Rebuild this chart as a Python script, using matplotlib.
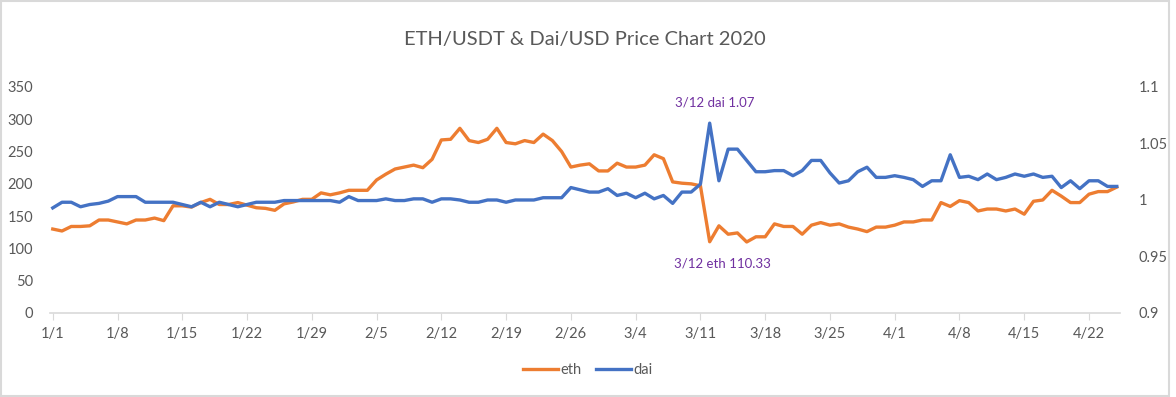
import pandas as pd
import matplotlib
matplotlib.use("Agg")
import matplotlib.pyplot as plt
from matplotlib.patches import Rectangle
from matplotlib.ticker import FuncFormatter

# daily data, 1/1/2020 .. 4/25/2020
dates = pd.date_range("2020-01-01", "2020-04-25", freq="D")

eth = [
    # Jan
    130, 127, 134, 134, 135, 144, 144, 141, 138, 144, 144, 147, 143, 166, 166, 164,
    171, 176, 168, 168, 171, 167, 163, 162, 159, 169, 172, 176, 176, 186, 183,
    # Feb
    186, 190, 190, 190, 206, 215, 223, 226, 229, 225, 238, 268, 269, 286, 267, 264,
    269, 286, 264, 262, 267, 264, 277, 267, 250, 226, 229, 231, 220,
    # Mar
    220, 232, 226, 226, 229, 245, 239, 203, 201, 200, 197, 110.33, 135, 122, 124, 110,
    118, 118, 138, 134, 134, 122, 136, 140, 136, 138, 133, 130, 126, 133, 133,
    # Apr
    136, 141, 141, 144, 144, 171, 165, 174, 171, 158, 161, 161, 158, 161, 153, 173,
    175, 190, 181, 171, 171, 184, 188, 188, 195,
]

dai = [
    0.993, 0.998, 0.998, 0.994, 0.996, 0.997, 0.999, 1.003, 1.003, 1.003, 0.998, 0.998,
    0.998, 0.998, 0.996, 0.994, 0.998, 0.994, 0.998, 0.996, 0.994, 0.996, 0.998, 0.998,
    0.998, 0.9995, 0.9995, 0.9995, 0.9995, 0.9995, 0.9995, 0.998, 1.003, 0.9995, 0.9995, 0.9995,
    1.001, 0.9995, 0.9995, 1.001, 1.001, 0.998, 1.001, 1.001, 1.0, 0.998, 0.998, 1.0,
    1.0, 0.998, 1.0, 1.0, 1.0, 1.002, 1.002, 1.002, 1.011, 1.009, 1.007, 1.007,
    1.010, 1.004, 1.006, 1.002, 1.006, 1.001, 1.004, 0.997, 1.007, 1.007, 1.014, 1.068,
    1.017, 1.045, 1.045, 1.035, 1.025, 1.025, 1.026, 1.026, 1.0215, 1.026, 1.035, 1.035,
    1.024, 1.015, 1.017, 1.025, 1.029, 1.020, 1.020, 1.0215, 1.020, 1.018, 1.012, 1.017,
    1.017, 1.040, 1.020, 1.021, 1.018, 1.023, 1.018, 1.020, 1.023, 1.021, 1.023, 1.020,
    1.021, 1.011, 1.017, 1.010, 1.017, 1.017, 1.012, 1.012,
]

days = list(range(len(dates)))
tick_days = days[::7]
tick_labels = [f"{d.month}/{d.day}" for d in dates[::7]]

orange = "#ED7D31"
blue = "#4472C4"
grey = "#595959"
purple = "#7030A0"

plt.rcParams["font.family"] = ["Lato", "DejaVu Sans"]

fig = plt.figure(figsize=(11.76, 3.97), dpi=100)
ax = fig.add_axes([0.0425, 0.2116, 0.9095, 0.5693])
ax2 = ax.twinx()

ax.plot(days, eth, color=orange, lw=2.4, label="eth", solid_joinstyle="round")
ax2.plot(days, dai, color=blue, lw=2.4, label="dai", solid_joinstyle="round")

ax.set_xlim(-0.3, 115.3)
ax.set_ylim(0, 350)
ax2.set_ylim(0.9, 1.1)
ax.set_yticks(range(0, 351, 50))
ax2.set_yticks([0.9, 0.95, 1.0, 1.05, 1.1])
ax2.yaxis.set_major_formatter(FuncFormatter(lambda v, p: f"{v:g}"))
ax.set_xticks(tick_days)
ax.set_xticklabels(tick_labels)

for a in (ax, ax2):
    for s in ("top", "left", "right"):
        a.spines[s].set_visible(False)
    a.spines["bottom"].set_visible(False)
    a.tick_params(axis="y", length=0, labelsize=10.5, colors=grey)
ax.spines["bottom"].set_visible(True)
ax.spines["bottom"].set_color("#d9d9d9")
ax.spines["bottom"].set_linewidth(1.2)
ax.tick_params(axis="x", direction="out", length=5, color="#d9d9d9",
               labelsize=10.5, labelcolor=grey, pad=5)
ax.tick_params(axis="y", pad=12)
ax2.tick_params(axis="y", pad=14)

ax.set_title("ETH/USDT & Dai/USD Price Chart 2020", fontsize=14.5, color=grey, pad=30)

ax2.text(71.5, 1.086, "3/12 dai 1.07", color=purple, fontsize=9.5, ha="center", va="center")
ax.text(72.4, 77, "3/12 eth 110.33", color=purple, fontsize=9.5, ha="center", va="center")

h1, l1 = ax.get_legend_handles_labels()
h2, l2 = ax2.get_legend_handles_labels()
fig.legend(h1 + h2, l1 + l2, loc="center", bbox_to_anchor=(0.5, 0.068), ncol=2,
           frameon=False, fontsize=10.5, labelcolor=grey, handlelength=2.4,
           handletextpad=0.15, columnspacing=1.0)

fig.patches.append(Rectangle((0.001, 0.003), 0.993, 0.994, transform=fig.transFigure,
                             fill=False, edgecolor="#d9d9d9", lw=1.5))

fig.savefig("out.png", dpi=100, facecolor="white")
